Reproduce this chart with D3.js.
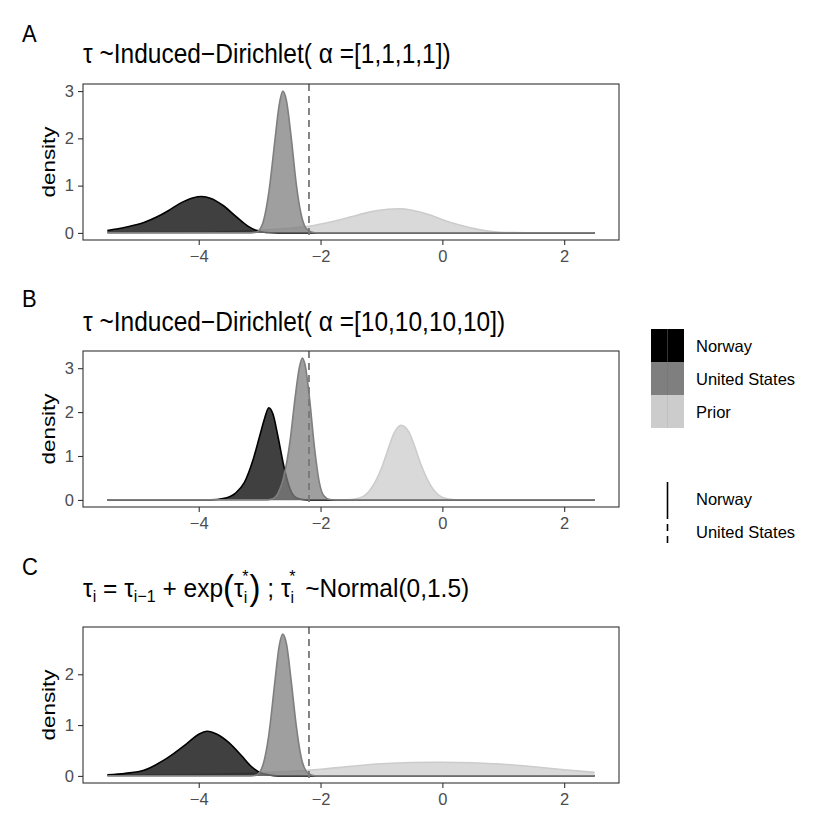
<!DOCTYPE html>
<html>
<head>
<meta charset="utf-8">
<script src="https://cdn.jsdelivr.net/npm/d3@7"></script>
<style>
  body { margin: 0; background: #fff; }
  text { font-family: "Liberation Sans", Arial, sans-serif; }
</style>
</head>
<body>
<svg id="chart" width="830" height="830"></svg>
<script>
// density curves, [tau, density]
const a_norway = [[-5.5,0.05],[-5.2,0.12],[-4.9,0.22],[-4.7,0.33],[-4.5,0.47],[-4.3,0.63],[-4.1,0.74],[-3.95,0.77],[-3.8,0.73],[-3.6,0.58],[-3.4,0.36],[-3.2,0.15],[-3.05,0.05],[-2.9,0.01],[-2.7,0],[2.5,0]];
const a_us     = [[-5.5,0],[-3.15,0],[-3.05,0.02],[-2.95,0.2],[-2.85,0.85],[-2.75,1.95],[-2.68,2.7],[-2.62,3.0],[-2.56,2.8],[-2.48,2.0],[-2.4,1.05],[-2.32,0.4],[-2.24,0.1],[-2.15,0.02],[-2.05,0],[2.5,0]];
const a_prior  = [[-5.5,0],[-4.5,0.005],[-4,0.01],[-3.5,0.03],[-3,0.06],[-2.5,0.1],[-2.2,0.14],[-1.8,0.24],[-1.5,0.34],[-1.2,0.44],[-0.9,0.5],[-0.7,0.51],[-0.5,0.48],[-0.2,0.38],[0,0.28],[0.3,0.16],[0.6,0.07],[0.9,0.02],[1.2,0.005],[1.5,0],[2.5,0]];

const b_norway = [[-5.5,0],[-3.8,0],[-3.6,0.03],[-3.4,0.15],[-3.25,0.4],[-3.1,0.95],[-3.0,1.45],[-2.92,1.85],[-2.85,2.1],[-2.78,1.95],[-2.7,1.45],[-2.6,0.75],[-2.5,0.25],[-2.4,0.05],[-2.3,0.01],[-2.2,0],[2.5,0]];
const b_us     = [[-5.5,0],[-2.9,0],[-2.8,0.02],[-2.7,0.15],[-2.6,0.55],[-2.5,1.35],[-2.42,2.3],[-2.35,3.0],[-2.3,3.23],[-2.25,3.05],[-2.18,2.3],[-2.1,1.2],[-2.02,0.4],[-1.95,0.1],[-1.85,0.01],[-1.75,0],[2.5,0]];
const b_prior  = [[-5.5,0],[-1.6,0],[-1.5,0.01],[-1.3,0.08],[-1.15,0.3],[-1.0,0.72],[-0.9,1.12],[-0.8,1.5],[-0.68,1.7],[-0.55,1.55],[-0.45,1.2],[-0.35,0.8],[-0.2,0.35],[-0.05,0.1],[0.1,0.02],[0.3,0],[2.5,0]];

const c_norway = [[-5.5,0.02],[-5.2,0.05],[-4.9,0.11],[-4.6,0.29],[-4.4,0.45],[-4.2,0.63],[-4.0,0.82],[-3.86,0.88],[-3.7,0.82],[-3.5,0.65],[-3.3,0.4],[-3.15,0.2],[-3.0,0.07],[-2.85,0.02],[-2.7,0],[2.5,0]];
const c_us     = [[-5.5,0],[-3.15,0],[-3.05,0.02],[-2.95,0.2],[-2.85,0.8],[-2.75,1.85],[-2.68,2.55],[-2.62,2.79],[-2.56,2.6],[-2.48,1.85],[-2.4,1.0],[-2.32,0.38],[-2.24,0.1],[-2.15,0.02],[-2.05,0],[2.5,0]];
const c_prior  = [[-5.5,0.01],[-4.5,0.02],[-3.5,0.04],[-3.0,0.06],[-2.5,0.09],[-2.0,0.13],[-1.5,0.19],[-1.0,0.24],[-0.5,0.265],[0,0.27],[0.5,0.26],[1.0,0.23],[1.5,0.18],[2.0,0.12],[2.5,0.07]];

const usLine = -2.19;   // dashed reference line
const groups = ["Norway", "United States", "Prior"];
const groupFill = ["#000000", "#7f7f7f", "#cccccc"];
const lineGroups = ["Norway", "United States"];
const xTicks = [-4, -2, 0, 2];

const panels = [
  { key: "A", top: 84,  yTicks: [0,1,2,3], series: [a_prior, a_norway, a_us], ids: [2,0,1] },
  { key: "B", top: 351, yTicks: [0,1,2,3], series: [b_prior, b_norway, b_us], ids: [2,0,1] },
  { key: "C", top: 627, yTicks: [0,1,2],   series: [c_prior, c_norway, c_us], ids: [2,0,1] }
];

const svg = d3.select("#chart");
const left = 83, right = 619, ph = 156;
const font = '"Liberation Sans", Arial, sans-serif';

const xExt = [-5.5, 2.5];
const xPad = (xExt[1] - xExt[0]) * 0.05;
const x = d3.scaleLinear().domain([xExt[0] - xPad, xExt[1] + xPad]).range([left, right]);

const lineCol = ["#000000", "#7f7f7f", "#cccccc"];
const areaCol = ["rgba(0,0,0,0.75)", "rgba(127,127,127,0.75)", "rgba(204,204,204,0.75)"];

panels.forEach(p => {
  const ymax = d3.max(p.series, s => d3.max(s, d => d[1]));
  const y = d3.scaleLinear().domain([-0.05 * ymax, 1.05 * ymax]).range([p.top + ph, p.top]);
  const g = svg.append("g");

  const area = d3.area().x(d => x(d[0])).y0(y(0)).y1(d => y(d[1])).curve(d3.curveMonotoneX);
  const line = d3.line().x(d => x(d[0])).y(d => y(d[1])).curve(d3.curveMonotoneX);

  p.series.forEach((s, i) => {
    const id = p.ids[i];
    g.append("path").attr("d", area(s)).attr("fill", areaCol[id]);
    g.append("path").attr("d", line(s)).attr("fill", "none")
      .attr("stroke", lineCol[id]).attr("stroke-width", 1.6);
  });

  g.append("line")
    .attr("x1", x(usLine)).attr("x2", x(usLine))
    .attr("y1", p.top).attr("y2", p.top + ph)
    .attr("stroke", "#777").attr("stroke-width", 1.8)
    .attr("stroke-dasharray", "7,5");

  g.append("rect").attr("x", left).attr("y", p.top).attr("width", right - left).attr("height", ph)
    .attr("fill", "none").attr("stroke", "#333").attr("stroke-width", 1.1);

  const ax = g.append("g").attr("transform", `translate(${left},0)`)
    .call(d3.axisLeft(y).tickValues(p.yTicks).tickFormat(d3.format("d")).tickSize(5).tickPadding(4));
  ax.select(".domain").remove();
  ax.selectAll(".tick line").attr("stroke", "#333").attr("stroke-width", 1.1);
  ax.selectAll(".tick text").attr("fill", "#4d4d4d").style("font-size", "16.5px").style("font-family", font);

  const bx = g.append("g").attr("transform", `translate(0,${p.top + ph})`)
    .call(d3.axisBottom(x).tickValues(xTicks).tickSize(5).tickPadding(5));
  bx.select(".domain").remove();
  bx.selectAll(".tick line").attr("stroke", "#333").attr("stroke-width", 1.1);
  bx.selectAll(".tick text").attr("fill", "#4d4d4d").style("font-size", "16.5px").style("font-family", font);

  g.append("text")
    .attr("transform", `translate(55,${p.top + ph / 2}) rotate(-90) scale(1.12,0.92)`)
    .attr("text-anchor", "middle").style("font-size", "20px").text("density");
});

// panel letters
[["A", 42], ["B", 307], ["C", 575]].forEach(([k, yy]) => {
  svg.append("text").attr("transform", `translate(22,${yy}) scale(1,1.08)`)
    .style("font-size", "22px").text(k);
});

// titles
svg.append("text").attr("transform", "translate(83,63) scale(1,1.1)").style("font-size", "24.5px")
  .text("τ ~Induced\u2212Dirichlet( α =[1,1,1,1])");
svg.append("text").attr("transform", "translate(83,331) scale(1,1.1)").style("font-size", "24.5px")
  .text("τ ~Induced\u2212Dirichlet( α =[10,10,10,10])");

const tc = svg.append("text").attr("transform", "translate(83,597) scale(1,1.05)").style("font-size", "24.5px");
tc.append("tspan").text("τ");
tc.append("tspan").attr("dy", 5).style("font-size", "16px").text("i");
tc.append("tspan").attr("dy", -5).text(" = τ");
tc.append("tspan").attr("dy", 5).style("font-size", "16px").text("i\u22121");
tc.append("tspan").attr("dy", -5).text(" + exp");
tc.append("tspan").style("font-size", "33px").attr("dy", 3).text("(");
tc.append("tspan").attr("dy", -3).text("τ");
tc.append("tspan").attr("dy", 6).style("font-size", "16px").text("i");
tc.append("tspan").attr("dx", -5).attr("dy", -20).style("font-size", "16px").text("*");
tc.append("tspan").attr("dx", 1).attr("dy", 17).style("font-size", "33px").text(")");
tc.append("tspan").attr("dy", -3).text(" ; τ");
tc.append("tspan").attr("dy", 6).style("font-size", "16px").text("i");
tc.append("tspan").attr("dx", -5).attr("dy", -20).style("font-size", "16px").text("*");
tc.append("tspan").attr("dx", 3).attr("dy", 14).text(" ~Normal(0,1.5)");

// fill legend
const lg = svg.append("g");
const keyX = 651, keyW = 33, keyH = 33, keyTop = 329;
groups.forEach((name, i) => {
  const ky = keyTop + i * keyH;
  lg.append("rect").attr("x", keyX).attr("y", ky).attr("width", keyW).attr("height", keyH).attr("fill", groupFill[i]);
  lg.append("line").attr("x1", keyX + keyW / 2).attr("x2", keyX + keyW / 2).attr("y1", ky).attr("y2", ky + keyH)
    .attr("stroke", i === 0 ? "#333" : d3.color(groupFill[i]).darker(0.15)).attr("stroke-width", 1);
  lg.append("text").attr("x", 696).attr("y", ky + keyH / 2 + 6).style("font-size", "16.5px").text(name);
});

// linetype legend
const ltTop = 482;
lineGroups.forEach((name, i) => {
  const ky = ltTop + i * 33;
  lg.append("line").attr("x1", 667.5).attr("x2", 667.5).attr("y1", ky).attr("y2", ky + 33)
    .attr("stroke", "#000").attr("stroke-width", 1.6)
    .attr("stroke-dasharray", i === 0 ? null : "7,5").attr("stroke-dashoffset", i === 0 ? null : -9);
  lg.append("text").attr("x", 696).attr("y", ky + 16.5 + 6).style("font-size", "16.5px").text(name);
});
</script>
</body>
</html>
